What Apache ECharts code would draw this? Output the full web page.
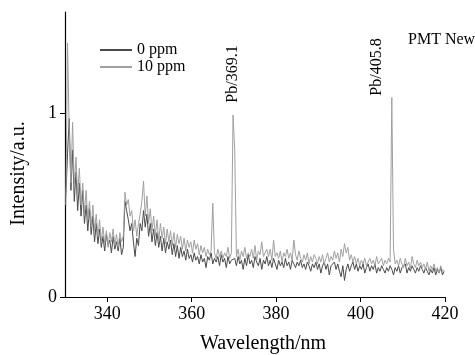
<!DOCTYPE html>
<html lang="en">
    <head>
        <title>PMT New spectra</title>
        <meta charset="utf-8">
        <script src='https://cdn.jsdelivr.net/npm/echarts@6/dist/echarts.min.js'></script>
    </head>

    <style>
        html, body, #main {
            width: 100%;
            height: 100%;
            margin: 0;
            background: #fff;
        }
    </style>

    <body>
        <div id='main'></div>

        <script>
            // sampling grid: 330.2 ... 419.8 nm, every 0.4 nm
            const wlStart = 330.2;
            const wlStep = 0.4;

            const xTicks = [340, 360, 380, 400, 420];
            const yTicks = [0, 1];
            const seriesNames = ['0 ppm', '10 ppm'];

            const ppm0 = [
                0.55, 0.78, 0.97, 0.58, 0.80, 0.52, 0.68, 0.47, 0.62, 0.44,
                0.58, 0.40, 0.50, 0.36, 0.48, 0.34, 0.44, 0.30, 0.40, 0.29,
                0.37, 0.27, 0.33, 0.25, 0.34, 0.28, 0.31, 0.24, 0.33, 0.26,
                0.30, 0.25, 0.32, 0.23, 0.27, 0.52, 0.47, 0.42, 0.36, 0.40,
                0.30, 0.22, 0.32, 0.28, 0.40, 0.36, 0.47, 0.38, 0.45, 0.33,
                0.40, 0.30, 0.37, 0.28, 0.35, 0.27, 0.33, 0.25, 0.32, 0.24,
                0.30, 0.26, 0.31, 0.23, 0.29, 0.22, 0.28, 0.21, 0.27, 0.22,
                0.25, 0.20, 0.26, 0.21, 0.23, 0.19, 0.24, 0.20, 0.22, 0.18,
                0.23, 0.19, 0.21, 0.16, 0.22, 0.20, 0.24, 0.18, 0.21, 0.19,
                0.22, 0.17, 0.23, 0.19, 0.21, 0.16, 0.22, 0.18, 0.20, 0.19,
                0.21, 0.17, 0.22, 0.18, 0.20, 0.15, 0.21, 0.17, 0.23, 0.18,
                0.20, 0.16, 0.22, 0.19, 0.17, 0.21, 0.15, 0.20, 0.18, 0.22,
                0.17, 0.20, 0.16, 0.21, 0.18, 0.15, 0.20, 0.17, 0.19, 0.16,
                0.21, 0.17, 0.19, 0.15, 0.20, 0.18, 0.16, 0.19, 0.17, 0.20,
                0.16, 0.18, 0.15, 0.19, 0.17, 0.14, 0.18, 0.16, 0.19, 0.15,
                0.18, 0.13, 0.17, 0.19, 0.15, 0.18, 0.12, 0.17, 0.16, 0.19,
                0.15, 0.18, 0.14, 0.11, 0.17, 0.09, 0.15, 0.18, 0.14, 0.17,
                0.19, 0.15, 0.18, 0.14, 0.17, 0.15, 0.18, 0.13, 0.16, 0.18,
                0.14, 0.17, 0.15, 0.18, 0.13, 0.16, 0.14, 0.17, 0.15, 0.13,
                0.16, 0.14, 0.17, 0.15, 0.12, 0.16, 0.14, 0.17, 0.13, 0.16,
                0.15, 0.18, 0.13, 0.16, 0.14, 0.17, 0.15, 0.13, 0.16, 0.14,
                0.17, 0.15, 0.13, 0.16, 0.14, 0.12, 0.15, 0.13, 0.16, 0.12,
                0.15, 0.13, 0.16, 0.12, 0.14
            ];

            const ppm10 = [
                0.50, 1.38, 0.90, 0.62, 0.95, 0.60, 0.76, 0.55, 0.70, 0.50,
                0.62, 0.45, 0.58, 0.42, 0.52, 0.38, 0.50, 0.36, 0.45, 0.33,
                0.42, 0.30, 0.38, 0.29, 0.36, 0.27, 0.35, 0.30, 0.37, 0.28,
                0.34, 0.27, 0.35, 0.30, 0.33, 0.57, 0.50, 0.53, 0.44, 0.47,
                0.36, 0.42, 0.33, 0.40, 0.45, 0.52, 0.63, 0.44, 0.55, 0.40,
                0.48, 0.36, 0.44, 0.33, 0.42, 0.30, 0.40, 0.32, 0.38, 0.29,
                0.37, 0.30, 0.36, 0.28, 0.35, 0.27, 0.34, 0.29, 0.33, 0.26,
                0.32, 0.25, 0.31, 0.27, 0.30, 0.24, 0.31, 0.26, 0.29, 0.23,
                0.28, 0.24, 0.27, 0.22, 0.26, 0.23, 0.25, 0.51, 0.24, 0.21,
                0.26, 0.22, 0.25, 0.21, 0.24, 0.22, 0.27, 0.21, 0.24, 0.99,
                0.80, 0.22, 0.26, 0.20, 0.25, 0.22, 0.27, 0.21, 0.24, 0.22,
                0.26, 0.21, 0.28, 0.20, 0.25, 0.23, 0.30, 0.22, 0.21, 0.26,
                0.22, 0.26, 0.20, 0.31, 0.22, 0.24, 0.21, 0.25, 0.19, 0.24,
                0.22, 0.26, 0.21, 0.24, 0.20, 0.31, 0.23, 0.20, 0.25, 0.21,
                0.19, 0.23, 0.20, 0.24, 0.18, 0.22, 0.19, 0.23, 0.21, 0.18,
                0.22, 0.19, 0.23, 0.18, 0.21, 0.24, 0.19, 0.22, 0.20, 0.25,
                0.21, 0.24, 0.19, 0.26, 0.22, 0.29, 0.24, 0.27, 0.20, 0.23,
                0.19, 0.22, 0.18, 0.21, 0.17, 0.20, 0.18, 0.21, 0.17, 0.19,
                0.21, 0.18, 0.20, 0.17, 0.22, 0.18, 0.19, 0.21, 0.17, 0.20,
                0.18, 0.21, 0.19, 1.085, 0.26, 0.18, 0.20, 0.17, 0.21, 0.18,
                0.16, 0.21, 0.17, 0.19, 0.15, 0.22, 0.18, 0.16, 0.20, 0.17,
                0.19, 0.16, 0.18, 0.15, 0.19, 0.14, 0.17, 0.15, 0.18, 0.14,
                0.16, 0.13, 0.17, 0.14, 0.15
            ];

            const pairs = (values) => values.map((v, i) =>
                [+(wlStart + i * wlStep).toFixed(1), v]);

            const serif = "'Liberation Serif', 'Times New Roman', serif";

            const chart = echarts.init(document.getElementById('main'));

            const option = {
                animation: false,
                backgroundColor: '#fff',
                grid: {
                    left: 65,
                    right: 30,
                    top: 12,
                    bottom: 58,
                    outerBoundsMode: 'none'
                },
                legend: {
                    orient: 'vertical',
                    left: 99,
                    top: 42,
                    padding: 0,
                    itemWidth: 32,
                    itemHeight: 14,
                    itemGap: 1,
                    data: seriesNames,
                    itemStyle: { opacity: 0 },
                    textStyle: { fontFamily: serif, fontSize: 16, color: '#000' }
                },
                xAxis: {
                    type: 'value',
                    min: 330,
                    max: 420,
                    name: 'Wavelength/nm',
                    nameLocation: 'middle',
                    nameGap: 37,
                    nameTextStyle: {
                        fontFamily: serif, fontSize: 20, color: '#000',
                        padding: [0, 0, 0, 16]
                    },
                    axisLine: { lineStyle: { color: '#000', width: 1.2 } },
                    axisTick: {
                        customValues: xTicks,
                        length: 5,
                        lineStyle: { color: '#000' }
                    },
                    axisLabel: {
                        customValues: xTicks,
                        margin: 8,
                        fontFamily: serif, fontSize: 18, color: '#000'
                    },
                    splitLine: { show: false }
                },
                yAxis: {
                    type: 'value',
                    min: 0,
                    max: 1.55,
                    name: 'Intensity/a.u.',
                    nameLocation: 'middle',
                    nameGap: 36,
                    nameTextStyle: {
                        fontFamily: serif, fontSize: 20, color: '#000',
                        padding: [0, 38, 0, 0]
                    },
                    axisLine: { show: true, lineStyle: { color: '#000', width: 1.2 } },
                    axisTick: {
                        show: true,
                        customValues: yTicks,
                        length: 5,
                        lineStyle: { color: '#000' }
                    },
                    axisLabel: {
                        customValues: yTicks,
                        margin: 8,
                        fontFamily: serif, fontSize: 18, color: '#000'
                    },
                    splitLine: { show: false }
                },
                graphic: [
                    {
                        type: 'text', x: 233, y: 74, rotation: Math.PI / 2,
                        style: {
                            text: 'Pb/369.1', fill: '#000', font: '16px ' + serif,
                            align: 'center', verticalAlign: 'middle'
                        }
                    },
                    {
                        type: 'text', x: 377, y: 67, rotation: Math.PI / 2,
                        style: {
                            text: 'Pb/405.8', fill: '#000', font: '16px ' + serif,
                            align: 'center', verticalAlign: 'middle'
                        }
                    },
                    {
                        type: 'text', x: 408, y: 40,
                        style: {
                            text: 'PMT New', fill: '#000', font: '16px ' + serif,
                            align: 'left', verticalAlign: 'middle'
                        }
                    }
                ],
                series: [
                    {
                        name: seriesNames[0],
                        type: 'line',
                        symbol: 'none',
                        color: '#4a4a4a',
                        lineStyle: { width: 1, color: '#4a4a4a' },
                        data: pairs(ppm0)
                    },
                    {
                        name: seriesNames[1],
                        type: 'line',
                        symbol: 'none',
                        color: '#a0a0a0',
                        lineStyle: { width: 1, color: '#a0a0a0' },
                        data: pairs(ppm10)
                    }
                ]
            };

            chart.setOption(option);

            window.onresize = function () {
                chart.resize();
            }
        </script>
    </body>
</html>
